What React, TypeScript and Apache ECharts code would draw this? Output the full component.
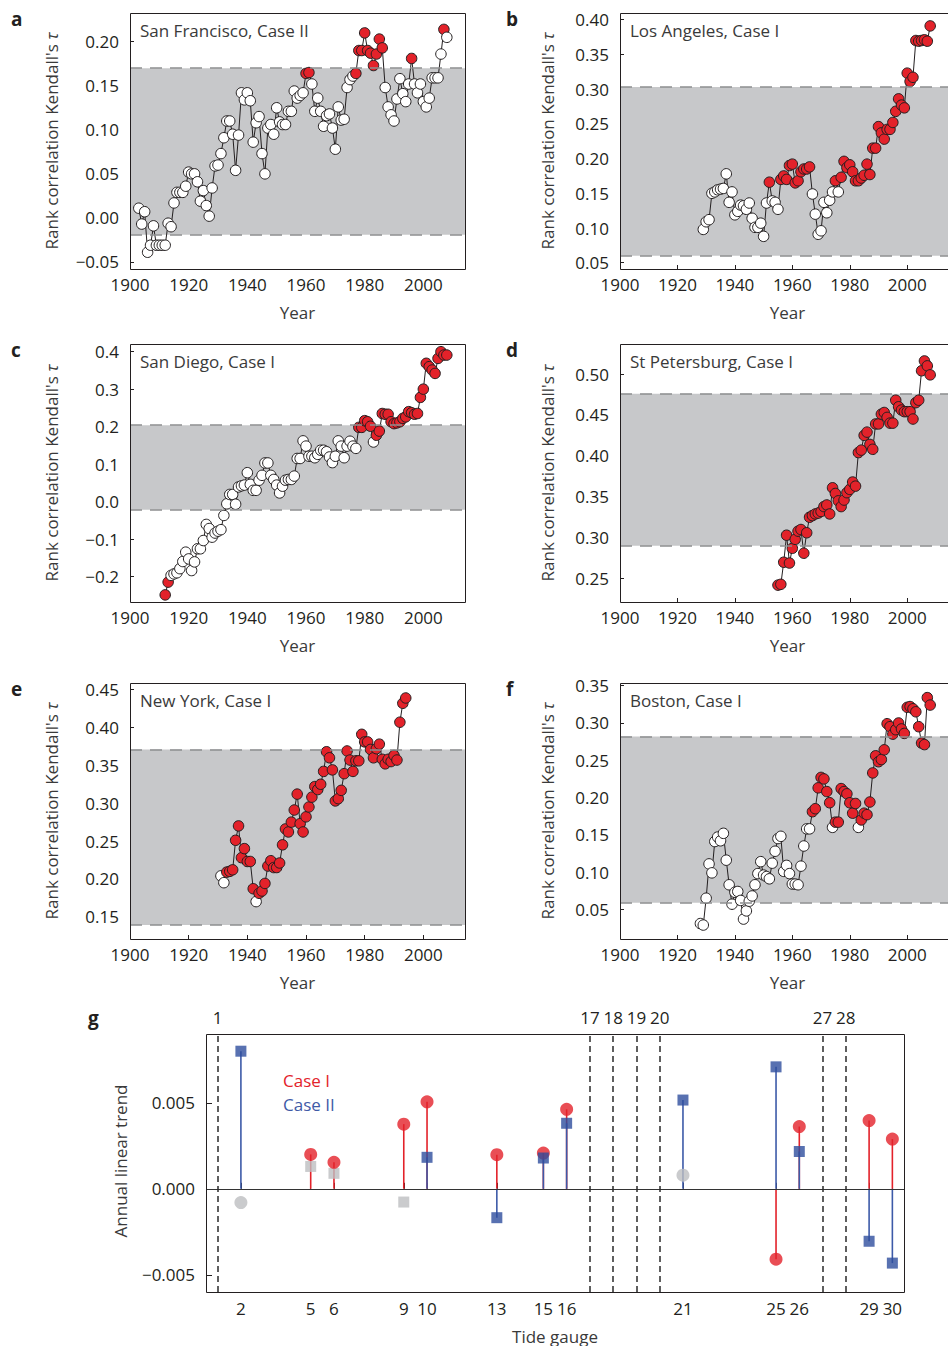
import React, { useEffect, useRef } from "react";
import * as echarts from "echarts";

// ---------- data ----------
const YEAR_LABELS = [1900, 1920, 1940, 1960, 1980, 2000];
const YEAR_TICKS = [1920, 1940, 1960, 1980, 2000];

// a: San Francisco, Case II (annual, from 1903)
const sfStart = 1903;
const sfValues = [
  0.011, -0.007, 0.007, -0.039, -0.031, -0.009, -0.031, -0.031, -0.031, -0.031,
  -0.006, -0.01, 0.017, 0.029, 0.029, 0.029, 0.036, 0.052, 0.05, 0.05,
  0.041, 0.019, 0.031, 0.014, 0.002, 0.034, 0.059, 0.06, 0.073, 0.091,
  0.11, 0.11, 0.095, 0.054, 0.094, 0.142, 0.134, 0.142, 0.133, 0.086,
  0.108, 0.115, 0.073, 0.05, 0.102, 0.106, 0.095, 0.125, 0.109, 0.106,
  0.106, 0.121, 0.121, 0.144, 0.136, 0.139, 0.142, 0.164, 0.165, 0.152,
  0.121, 0.136, 0.121, 0.104, 0.116, 0.118, 0.102, 0.078, 0.126, 0.111,
  0.112, 0.148, 0.157, 0.161, 0.164, 0.19, 0.19, 0.21, 0.19, 0.187,
  0.173, 0.186, 0.203, 0.193, 0.148, 0.126, 0.117, 0.11, 0.135, 0.158,
  0.141, 0.132, 0.152, 0.181, 0.152, 0.142, 0.152, 0.132, 0.126, 0.136,
  0.159, 0.159, 0.159, 0.186, 0.214, 0.205,
];
const sfRed = [[1960, 1961], [1977, 1986], [1996, 1996], [2007, 2007]];
const sfBand = [-0.019, 0.17];
const sfTicks = [-0.05, 0, 0.05, 0.1, 0.15, 0.2];
const sfRange = [-0.058, 0.2326];

// b: Los Angeles, Case I (from 1929)
const laStart = 1929;
const laValues = [
  0.098, 0.109, 0.112, 0.15, 0.152, 0.155, 0.156, 0.157, 0.178, 0.137,
  0.152, 0.119, 0.124, 0.133, 0.132, 0.127, 0.136, 0.114, 0.101, 0.101,
  0.107, 0.088, 0.136, 0.166, 0.139, 0.137, 0.127, 0.17, 0.175, 0.17,
  0.19, 0.192, 0.165, 0.168, 0.181, 0.185, 0.185, 0.188, 0.149, 0.12,
  0.091, 0.096, 0.137, 0.122, 0.14, 0.152, 0.168, 0.152, 0.173, 0.196,
  0.187, 0.191, 0.181, 0.168, 0.168, 0.172, 0.176, 0.192, 0.177, 0.215,
  0.215, 0.246, 0.237, 0.228, 0.242, 0.242, 0.252, 0.268, 0.286, 0.277,
  0.273, 0.323, 0.311, 0.317, 0.37, 0.369, 0.37, 0.371, 0.369, 0.391,
];
const laRed = [[1952, 1952], [1956, 1966], [1975, 1975], [1977, 2008]];
const laBand = [0.06, 0.303];
const laTicks = [0.05, 0.1, 0.15, 0.2, 0.25, 0.3, 0.35, 0.4];
const laRange = [0.041, 0.4096];

// c: San Diego, Case I (from 1912)
const sdStart = 1912;
const sdValues = [
  -0.249, -0.215, -0.197, -0.193, -0.19, -0.179, -0.16, -0.135, -0.153, -0.184,
  -0.161, -0.126, -0.126, -0.104, -0.061, -0.072, -0.095, -0.084, -0.079, -0.075,
  -0.037, -0.006, 0.019, 0.019, -0.007, 0.039, 0.042, 0.044, 0.077, 0.046,
  0.03, 0.03, 0.057, 0.07, 0.103, 0.103, 0.07, 0.059, 0.044, 0.023,
  0.041, 0.057, 0.059, 0.059, 0.068, 0.115, 0.115, 0.162, 0.148, 0.121,
  0.121, 0.117, 0.126, 0.137, 0.137, 0.133, 0.119, 0.104, 0.121, 0.162,
  0.148, 0.117, 0.148, 0.161, 0.148, 0.142, 0.198, 0.198, 0.216, 0.213,
  0.201, 0.159, 0.177, 0.188, 0.235, 0.233, 0.233, 0.213, 0.208, 0.21,
  0.213, 0.222, 0.226, 0.24, 0.237, 0.233, 0.235, 0.278, 0.3, 0.369,
  0.36, 0.351, 0.342, 0.382, 0.4, 0.391, 0.391,
];
const sdRed = [[1912, 1913], [1978, 1982], [1984, 2008]];
const sdBand = [-0.022, 0.204];
const sdTicks = [-0.2, -0.1, 0, 0.1, 0.2, 0.3, 0.4];
const sdRange = [-0.268, 0.4205];

// d: St Petersburg, Case I (from 1955)
const spStart = 1955;
const spValues = [
  0.242, 0.243, 0.27, 0.303, 0.269, 0.287, 0.298, 0.308, 0.31, 0.281,
  0.306, 0.325, 0.327, 0.329, 0.33, 0.332, 0.338, 0.34, 0.329, 0.361,
  0.354, 0.345, 0.338, 0.346, 0.355, 0.359, 0.368, 0.363, 0.404, 0.407,
  0.425, 0.429, 0.414, 0.408, 0.439, 0.439, 0.451, 0.453, 0.447, 0.44,
  0.44, 0.468, 0.46, 0.456, 0.454, 0.454, 0.454, 0.445, 0.465, 0.468,
  0.504, 0.516, 0.51, 0.499,
];
const spRed = [[1955, 2008]];
const spBand = [0.29, 0.476];
const spTicks = [0.25, 0.3, 0.35, 0.4, 0.45, 0.5];
const spRange = [0.2214, 0.5367];

// e: New York, Case I (from 1931)
const nyStart = 1931;
const nyValues = [
  0.204, 0.195, 0.209, 0.21, 0.212, 0.251, 0.27, 0.228, 0.24, 0.223,
  0.223, 0.187, 0.17, 0.181, 0.184, 0.194, 0.217, 0.224, 0.215, 0.215,
  0.221, 0.245, 0.266, 0.262, 0.275, 0.291, 0.312, 0.273, 0.262, 0.282,
  0.295, 0.308, 0.322, 0.318, 0.325, 0.342, 0.368, 0.36, 0.344, 0.303,
  0.306, 0.317, 0.339, 0.369, 0.357, 0.342, 0.356, 0.356, 0.391, 0.381,
  0.381, 0.371, 0.36, 0.372, 0.378, 0.358, 0.352, 0.358, 0.355, 0.363,
  0.357, 0.407, 0.432, 0.439,
];
const nyRed = [[1933, 1942], [1944, 1994]];
const nyBand = [0.139, 0.371];
const nyTicks = [0.15, 0.2, 0.25, 0.3, 0.35, 0.4, 0.45];
const nyRange = [0.1206, 0.4588];

// f: Boston, Case I (from 1928)
const bosStart = 1928;
const bosValues = [
  0.031, 0.029, 0.065, 0.111, 0.099, 0.141, 0.147, 0.142, 0.152, 0.116,
  0.083, 0.057, 0.073, 0.074, 0.062, 0.037, 0.048, 0.061, 0.068, 0.083,
  0.098, 0.114, 0.096, 0.094, 0.091, 0.112, 0.128, 0.145, 0.148, 0.101,
  0.109, 0.098, 0.084, 0.084, 0.083, 0.108, 0.135, 0.158, 0.158, 0.181,
  0.185, 0.213, 0.227, 0.225, 0.208, 0.193, 0.16, 0.167, 0.167, 0.212,
  0.208, 0.205, 0.193, 0.179, 0.192, 0.16, 0.17, 0.179, 0.177, 0.194,
  0.233, 0.256, 0.248, 0.251, 0.264, 0.299, 0.295, 0.285, 0.291, 0.3,
  0.292, 0.286, 0.321, 0.322, 0.319, 0.315, 0.295, 0.273, 0.271, 0.334,
  0.324,
];
const bosRed = [[1967, 1973], [1975, 1982], [1984, 2008]];
const bosBand = [0.059, 0.282];
const bosTicks = [0.05, 0.1, 0.15, 0.2, 0.25, 0.3, 0.35];
const bosRange = [0.0103, 0.3536];

// g: annual linear trend per tide gauge
const gauges = [2, 5, 6, 9, 10, 13, 15, 16, 21, 25, 26, 29, 30];
const caseI = [-0.0008, 0.002, 0.00154, 0.00376, 0.00506, 0.00198, 0.00208, 0.00462, 0.00079, -0.00409, 0.00362, 0.00397, 0.00289];
const caseII = [0.008, 0.0013, 0.0009, -0.00077, 0.00183, -0.00168, 0.00179, 0.00381, 0.00516, 0.00709, 0.00217, -0.00305, -0.00432];
const sigI = [0, 1, 1, 1, 1, 1, 1, 1, 0, 1, 1, 1, 1];
const sigII = [1, 0, 0, 0, 1, 1, 1, 1, 1, 1, 1, 1, 1];
const dividerGauges = [1, 17, 18, 19, 20, 27, 28];
const gTicks = [-0.005, 0, 0.005];
const gRange = [-0.006, 0.009];

// ---------- style / layout ----------
const FONT = '"Open Sans", "Noto Sans", "DejaVu Sans", sans-serif';
const TEXT = "#231f20";
const RED = "#e3222a";
const BLUE = "#2e4d9e";
const GRAY = "#bdbec0";
const BAND = "#c7c8ca";
const FS = 17;

const PANELS = [
  { letter: "a", title: "San Francisco, Case II", start: sfStart, values: sfValues, red: sfRed, band: sfBand, ticks: sfTicks, range: sfRange, digits: 2 },
  { letter: "b", title: "Los Angeles, Case I", start: laStart, values: laValues, red: laRed, band: laBand, ticks: laTicks, range: laRange, digits: 2 },
  { letter: "c", title: "San Diego, Case I", start: sdStart, values: sdValues, red: sdRed, band: sdBand, ticks: sdTicks, range: sdRange, digits: 1 },
  { letter: "d", title: "St Petersburg, Case I", start: spStart, values: spValues, red: spRed, band: spBand, ticks: spTicks, range: spRange, digits: 2 },
  { letter: "e", title: "New York, Case I", start: nyStart, values: nyValues, red: nyRed, band: nyBand, ticks: nyTicks, range: nyRange, digits: 2 },
  { letter: "f", title: "Boston, Case I", start: bosStart, values: bosValues, red: bosRed, band: bosBand, ticks: bosTicks, range: bosRange, digits: 2 },
];

const LAYOUT = [
  { left: 130, top: 13, width: 335, height: 256 },
  { left: 620, top: 13, width: 335, height: 256 },
  { left: 130, top: 344, width: 335, height: 258 },
  { left: 620, top: 344, width: 335, height: 258 },
  { left: 130, top: 683, width: 335, height: 256 },
  { left: 620, top: 683, width: 335, height: 256 },
];
const G_LAYOUT = { left: 206, top: 1034, width: 698, height: 258 };
const X_MIN = 1900;
const X_MAX = 2014.2;

const fmt = (v: number, d: number) => v.toFixed(d).replace("-", "\u2212");

function buildOption() {
  const grid: any[] = [];
  const xAxis: any[] = [];
  const yAxis: any[] = [];
  const series: any[] = [];
  const graphic: any[] = [];

  const labelStyle = { color: TEXT, fontSize: FS, fontFamily: FONT };

  PANELS.forEach((p, i) => {
    const L = LAYOUT[i];
    grid.push({ left: L.left, top: L.top, width: L.width, height: L.height, show: false });
    xAxis.push({
      type: "value", gridIndex: i, min: X_MIN, max: X_MAX,
      axisLine: { show: false }, splitLine: { show: false },
      axisTick: { show: true, inside: true, length: 4, customValues: YEAR_TICKS, lineStyle: { color: TEXT, width: 1 } },
      axisLabel: { ...labelStyle, customValues: YEAR_LABELS, margin: 7, showMinLabel: true, showMaxLabel: true, formatter: (v: number) => String(v) },
    });
    yAxis.push({
      type: "value", gridIndex: i, min: p.range[0], max: p.range[1],
      axisLine: { show: false }, splitLine: { show: false },
      axisTick: { show: true, inside: true, length: 4, customValues: p.ticks, lineStyle: { color: TEXT, width: 1 } },
      axisLabel: { ...labelStyle, customValues: p.ticks, margin: 11, formatter: (v: number) => fmt(v, p.digits) },
    });
    const isRed = (yr: number) => p.red.some((r) => yr >= r[0] && yr <= r[1]);
    series.push({
      type: "line", xAxisIndex: i, yAxisIndex: i, data: [], z: 1, silent: true,
      markArea: {
        silent: true, itemStyle: { color: BAND, borderWidth: 0 },
        data: [[{ xAxis: X_MIN, yAxis: p.band[0] }, { xAxis: X_MAX, yAxis: p.band[1] }]],
      },
      markLine: {
        silent: true, symbol: "none", label: { show: false },
        lineStyle: { color: "#8d8e90", type: [12, 8], width: 1.5 },
        data: [
          [{ coord: [X_MIN, p.band[0]] }, { coord: [X_MAX, p.band[0]] }],
          [{ coord: [X_MIN, p.band[1]] }, { coord: [X_MAX, p.band[1]] }],
        ],
      },
    });
    series.push({
      type: "line", xAxisIndex: i, yAxisIndex: i, z: 3,
      symbol: "circle", symbolSize: 10.5, showSymbol: true,
      lineStyle: { color: TEXT, width: 1 },
      itemStyle: { borderColor: TEXT, borderWidth: 1 },
      data: p.values.map((v, k) => {
        const yr = p.start + k;
        return { value: [yr, v], itemStyle: { color: isRed(yr) ? RED : "#ffffff", borderColor: TEXT, borderWidth: 1 } };
      }),
    });
    // frame
    graphic.push({ type: "rect", z: 100, silent: true, shape: { x: L.left + 0.5, y: L.top + 0.5, width: L.width, height: L.height }, style: { fill: null, stroke: TEXT, lineWidth: 1 } });
    // title
    graphic.push({ type: "text", z: 101, x: L.left + 10, y: L.top + 17, style: { text: p.title, font: `${FS}px ${FONT}`, fill: "#3a3a3a", textVerticalAlign: "middle" } });
    // panel letter
    const col = i % 2;
    graphic.push({ type: "text", z: 101, x: col === 0 ? 11 : 506, y: L.top + 6, style: { text: p.letter, font: `bold 19px ${FONT}`, fill: TEXT, textVerticalAlign: "middle" } });
    // y name
    graphic.push({
      type: "text", z: 101, x: col === 0 ? 51 : 547, y: L.top + L.height / 2, rotation: Math.PI / 2,
      style: {
        text: "Rank correlation Kendall's {i|\u03c4}", font: `${FS}px ${FONT}`, fill: "#3a3a3a",
        textAlign: "center", textVerticalAlign: "middle",
        rich: { i: { fontStyle: "italic", fontSize: FS, fontFamily: FONT, fill: "#3a3a3a" } },
      },
    });
    // x name
    graphic.push({ type: "text", z: 101, x: L.left + 167.5, y: L.top + L.height + 43, style: { text: "Year", font: `${FS}px ${FONT}`, fill: "#3a3a3a", textAlign: "center", textVerticalAlign: "middle" } });
  });

  // ---------- panel g ----------
  const gi = 6;
  grid.push({ ...G_LAYOUT, show: false });
  xAxis.push({
    type: "value", gridIndex: gi, min: 0.5, max: 30.5,
    axisLine: { show: false }, splitLine: { show: false },
    axisTick: { show: true, inside: true, length: 6, customValues: gauges, lineStyle: { color: TEXT } },
    axisLabel: { ...labelStyle, customValues: gauges, margin: 8, formatter: (v: number) => String(v) },
  });
  xAxis.push({
    type: "value", gridIndex: gi, min: 0.5, max: 30.5, position: "top",
    axisLine: { show: false }, splitLine: { show: false }, axisTick: { show: false },
    axisLabel: { ...labelStyle, customValues: dividerGauges, margin: 8, formatter: (v: number) => String(v) },
  });
  yAxis.push({
    type: "value", gridIndex: gi, min: gRange[0], max: gRange[1],
    axisLine: { show: false }, splitLine: { show: false },
    axisTick: { show: true, inside: true, length: 6, customValues: gTicks, lineStyle: { color: TEXT } },
    axisLabel: { ...labelStyle, customValues: gTicks, margin: 11, formatter: (v: number) => fmt(v, 3) },
  });
  const gx = 6, gy = 6;
  const stem = (color: string) => (params: any, api: any) => {
    const x = api.value(0), y = api.value(1);
    const p0 = api.coord([x, 0]);
    const p1 = api.coord([x, y]);
    return { type: "line", shape: { x1: p0[0], y1: p0[1], x2: p1[0], y2: p1[1] }, style: { stroke: color, lineWidth: 1.6 } };
  };
  const sigIData = gauges.map((g, k) => [g, caseI[k]]).filter((_, k) => sigI[k]);
  const nsIData = gauges.map((g, k) => [g, caseI[k]]).filter((_, k) => !sigI[k]);
  const sigIIData = gauges.map((g, k) => [g, caseII[k]]).filter((_, k) => sigII[k]);
  const nsIIData = gauges.map((g, k) => [g, caseII[k]]).filter((_, k) => !sigII[k]);
  series.push({
    type: "line", xAxisIndex: gx, yAxisIndex: gy, data: [], z: 1, silent: true,
    markLine: {
      silent: true, symbol: "none", label: { show: false },
      data: [
        { yAxis: 0, lineStyle: { color: "#333", type: "solid", width: 1.2 } },
        ...dividerGauges.map((g) => ({ xAxis: g, lineStyle: { color: "#2a2a2a", type: [6, 4], width: 1.5 } })),
      ],
    },
  });
  series.push({ type: "custom", xAxisIndex: gx, yAxisIndex: gy, z: 2, renderItem: stem(RED), encode: { x: 0, y: 1 }, data: sigIData });
  series.push({ type: "custom", xAxisIndex: gx, yAxisIndex: gy, z: 3, renderItem: stem("#3d5aa8"), encode: { x: 0, y: 1 }, data: sigIIData });
  series.push({ type: "scatter", xAxisIndex: gx, yAxisIndex: gy, z: 4, symbol: "circle", symbolSize: 13, itemStyle: { color: GRAY }, data: nsIData });
  series.push({ type: "scatter", xAxisIndex: gx, yAxisIndex: gy, z: 4, symbol: "rect", symbolSize: 11, itemStyle: { color: GRAY }, data: nsIIData });
  series.push({ type: "scatter", xAxisIndex: gx, yAxisIndex: gy, z: 5, symbol: "circle", symbolSize: 13, itemStyle: { color: RED }, data: sigIData });
  series.push({ type: "scatter", xAxisIndex: gx, yAxisIndex: gy, z: 6, symbol: "rect", symbolSize: 11, itemStyle: { color: BLUE }, data: sigIIData });

  graphic.push({ type: "rect", z: 100, silent: true, shape: { x: G_LAYOUT.left + 0.5, y: G_LAYOUT.top + 0.5, width: G_LAYOUT.width, height: G_LAYOUT.height }, style: { fill: null, stroke: TEXT, lineWidth: 1 } });
  graphic.push({ type: "text", z: 101, x: 88, y: 1018, style: { text: "g", font: `bold 19px ${FONT}`, fill: TEXT, textVerticalAlign: "middle" } });
  graphic.push({ type: "text", z: 101, x: 120, y: 1161, rotation: Math.PI / 2, style: { text: "Annual linear trend", font: `${FS}px ${FONT}`, fill: "#3a3a3a", textAlign: "center", textVerticalAlign: "middle" } });
  graphic.push({ type: "text", z: 101, x: 555, y: 1336, style: { text: "Tide gauge", font: `${FS}px ${FONT}`, fill: "#3a3a3a", textAlign: "center", textVerticalAlign: "middle" } });
  graphic.push({ type: "text", z: 101, x: 283, y: 1080, style: { text: "Case I", font: `${FS}px ${FONT}`, fill: RED, textVerticalAlign: "middle" } });
  graphic.push({ type: "text", z: 101, x: 283, y: 1104, style: { text: "Case II", font: `${FS}px ${FONT}`, fill: "#3f5aa6", textVerticalAlign: "middle" } });

  return { animation: false, backgroundColor: "#ffffff", grid, xAxis, yAxis, series, graphic };
}

export default function App() {
  const ref = useRef<HTMLDivElement>(null);
  useEffect(() => {
    if (!ref.current) return;
    const chart = echarts.init(ref.current, undefined, { renderer: "svg" });
    chart.setOption(buildOption() as any);
    return () => chart.dispose();
  }, []);
  return <div ref={ref} style={{ position: "absolute", left: 0, top: 0, width: 948, height: 1346 }} />;
}
